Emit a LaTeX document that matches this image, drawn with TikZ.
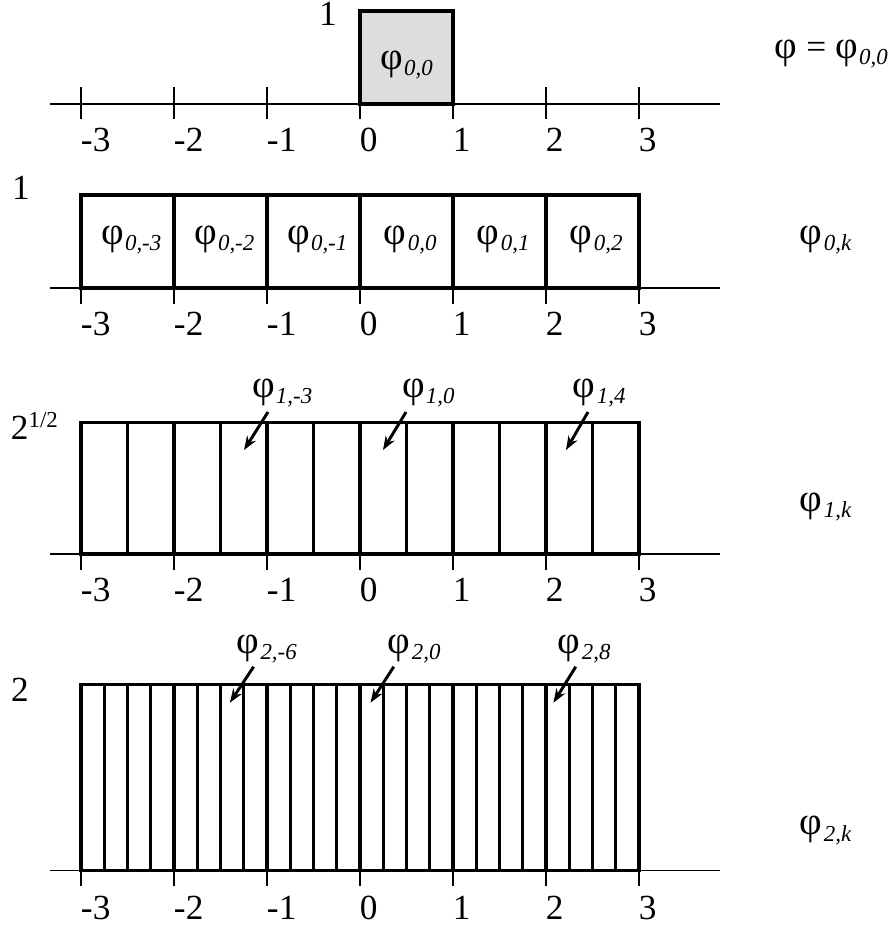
\documentclass[tikz,border=0pt]{standalone}
\usepackage{fontspec}
\setmainfont{Liberation Serif}
\usetikzlibrary{arrows.meta}
\newcommand{\phg}{{\fontsize{12}{13}\selectfont φ}}
\newcommand{\ph}[1]{\phg\kern0.4pt\raisebox{-1.9pt}{\fontsize{7}{8}\selectfont\itshape #1}}
\definecolor{boxgray}{RGB}{220,221,223}
\begin{document}
\begin{tikzpicture}[x=1cm,y=1cm,
  every node/.style={font=\fontsize{10.8}{12}\selectfont, inner sep=0pt, outer sep=0pt},
  axisline/.style={line width=0.45pt},
  boxline/.style={line width=1.05pt},
  arr/.style={line width=0.9pt, -{Stealth[length=1.5mm,width=1.1mm]}},
  ticklab/.style={anchor=west}]
\useasboundingbox (-3.871,0) rectangle (5.688,-9.957);

% ---------- row 0 ----------
\draw[axisline] (-3.333,-1.118) -- (3.871,-1.118);
\foreach \k [count=\c] in {-3,...,3} {
  \draw[axisline] (\k,-1.118+0.183) -- (\k,-1.118-0.165);
  \node[ticklab] (ra\c) at (\k,-1.118-0.387) {\k};
}
\draw[boxline, fill=boxgray] (0,-1.118) rectangle (1,-0.118);
\node (p00) at (0.5,-0.70) {\ph{0,0}};
\node[anchor=base] (h0) at (-0.344,-0.269) {1};
\node[anchor=west] (r0) at (4.462,-0.58) {\phg{} = \ph{0,0}};

% ---------- row 1 ----------
\draw[axisline] (-3.333,-3.097) -- (3.871,-3.097);
\foreach \k [count=\c] in {-3,...,3} {
  \draw[axisline] (\k,-3.097) -- (\k,-3.097-0.17);
  \node[ticklab] (rb\c) at (\k,-3.097-0.387) {\k};
}
\foreach \k in {-3,...,2} {
  \draw[boxline] (\k,-3.097) rectangle (\k+1,-2.097);
  \node (q\k) at (\k+0.54,-2.58) {\ph{0,\k}};
}
\node[anchor=base] (h1) at (-3.645,-2.15) {1};
\node[anchor=west] (r1) at (4.731,-2.58) {\ph{0,k}};

% ---------- row 2 ----------
\draw[axisline] (-3.333,-5.957) -- (3.871,-5.957);
\foreach \k [count=\c] in {-3,...,3} {
  \draw[axisline] (\k,-5.957) -- (\k,-5.957-0.17);
  \node[ticklab] (rc\c) at (\k,-5.957-0.387) {\k};
}
\foreach \i in {0,...,11} {
  \draw[boxline] (-3+\i*0.5,-5.957) rectangle (-2.5+\i*0.5,-4.543);
}
\node[anchor=base west] (h2) at (-3.753,-4.731) {2\raisebox{3.8pt}{\fontsize{7}{8}\selectfont 1/2}};
\node[anchor=west] (r2) at (4.731,-5.45) {\ph{1,k}};

\node[anchor=south west] (l1a) at (-1.161,-4.376) {\ph{1,-3}};
\node[anchor=south west] (l1b) at (0.452,-4.376) {\ph{1,0}};
\node[anchor=south west] (l1c) at (2.290,-4.376) {\ph{1,4}};
\coordinate (s1a) at (-0.989,-4.430); \coordinate (t1a) at (-1.247,-4.839);
\coordinate (s1b) at (0.495,-4.430);  \coordinate (t1b) at (0.247,-4.839);
\coordinate (s1c) at (2.452,-4.430);  \coordinate (t1c) at (2.215,-4.839);
\draw[arr] (s1a) -- (t1a);
\draw[arr] (s1b) -- (t1b);
\draw[arr] (s1c) -- (t1c);

% ---------- row 3 ----------
\draw[axisline] (-3.333,-9.360) -- (3.871,-9.360);
\foreach \k [count=\c] in {-3,...,3} {
  \draw[axisline] (\k,-9.360) -- (\k,-9.360-0.17);
  \node[ticklab] (rd\c) at (\k,-9.360-0.40) {\k};
}
\foreach \i in {0,...,23} {
  \draw[boxline] (-3+\i*0.25,-9.360) rectangle (-2.75+\i*0.25,-7.360);
}
\node[anchor=base] (h3) at (-3.656,-7.548) {2};
\node[anchor=west] (r3) at (4.731,-8.93) {\ph{2,k}};

\node[anchor=south west] (l2a) at (-1.327,-7.129) {\ph{2,-6}};
\node[anchor=south west] (l2b) at (0.301,-7.129) {\ph{2,0}};
\node[anchor=south west] (l2c) at (2.129,-7.129) {\ph{2,8}};
\coordinate (s2a) at (-1.144,-7.169); \coordinate (t2a) at (-1.399,-7.556);
\coordinate (s2b) at (0.363,-7.169);  \coordinate (t2b) at (0.113,-7.556);
\coordinate (s2c) at (2.320,-7.169);  \coordinate (t2c) at (2.080,-7.556);
\draw[arr] (s2a) -- (t2a);
\draw[arr] (s2b) -- (t2b);
\draw[arr] (s2c) -- (t2c);
\end{tikzpicture}
\end{document}
